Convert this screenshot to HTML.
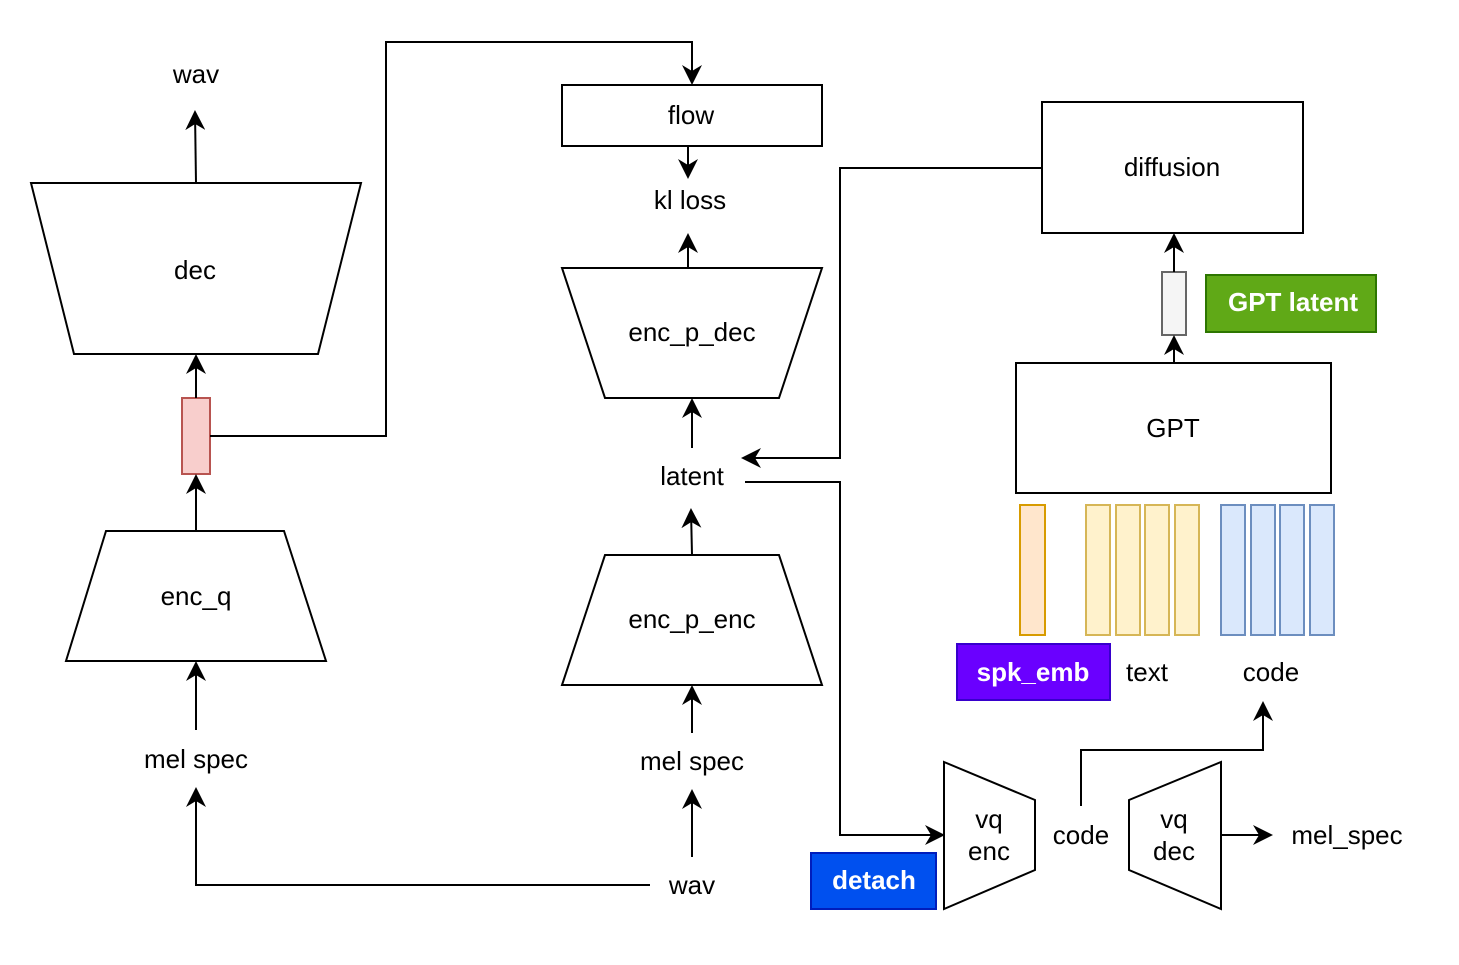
<!DOCTYPE html>
<html><head><meta charset="utf-8"><style>body{margin:0;background:#fff}svg{display:block}text{font-family:"Liberation Sans",Arial,sans-serif;font-size:26px;fill:#000}</style></head>
<body>
<svg width="1459" height="965" viewBox="0 0 1459 965" xmlns="http://www.w3.org/2000/svg">
<defs><marker id="b" viewBox="0 0 10 10" refX="9" refY="5" markerWidth="20" markerHeight="20" markerUnits="userSpaceOnUse" orient="auto"><path d="M0,0 L10,5 L0,10 L3,5 z" fill="#000"/></marker></defs>
<g fill="none" stroke="#000" stroke-width="2">
<polygon points="31,183 361,183 318,354 74,354" fill="#fff"/>
<polygon points="106,531 284,531 326,661 66,661" fill="#fff"/>
<polygon points="605,555 779,555 822,685 562,685" fill="#fff"/>
<polygon points="562,268 822,268 779,398 605,398" fill="#fff"/>
<rect x="562" y="85" width="260" height="61" fill="#fff"/>
<rect x="1042" y="102" width="261" height="131" fill="#fff"/>
<rect x="1016" y="363" width="315" height="130" fill="#fff"/>
<polygon points="944,762 1035,800 1035,870 944,909" fill="#fff"/>
<polygon points="1129,800 1221,762 1221,909 1129,870" fill="#fff"/>
</g>
<rect x="182" y="398" width="28" height="76" fill="#f8cecc" stroke="#b85450" stroke-width="2"/>
<rect x="1162" y="272" width="24" height="63" fill="#f5f5f5" stroke="#666" stroke-width="2"/>
<rect x="1206" y="275" width="170" height="57" fill="#60a917" stroke="#2d7600" stroke-width="2"/>
<rect x="1020" y="505" width="25" height="130" fill="#ffe6cc" stroke="#d79b00" stroke-width="2"/>
<g fill="#fff2cc" stroke="#d6b656" stroke-width="2"><rect x="1086" y="505" width="24" height="130"/><rect x="1116" y="505" width="24" height="130"/><rect x="1145" y="505" width="24" height="130"/><rect x="1175" y="505" width="24" height="130"/></g>
<g fill="#dae8fc" stroke="#6c8ebf" stroke-width="2"><rect x="1221" y="505" width="24" height="130"/><rect x="1251" y="505" width="24" height="130"/><rect x="1280" y="505" width="24" height="130"/><rect x="1310" y="505" width="24" height="130"/></g>
<rect x="957" y="644" width="153" height="56" fill="#6a00ff" stroke="#3700cc" stroke-width="2"/>
<rect x="811" y="853" width="125" height="56" fill="#0050ef" stroke="#001dbc" stroke-width="2"/>
<g fill="none" stroke="#000" stroke-width="2" marker-end="url(#b)">
<path d="M196,183 L195,112"/>
<path d="M196,398 L196,356"/>
<path d="M210,436 L386,436 L386,42 L692,42 L692,83"/>
<path d="M196,531 L196,476"/>
<path d="M196,730 L196,663"/>
<path d="M650,885 L196,885 L196,789"/>
<path d="M692,857 L692,791"/>
<path d="M692,733 L692,687"/>
<path d="M692,555 L691,510"/>
<path d="M692,448 L692,400"/>
<path d="M688,268 L688,235"/>
<path d="M688,146 L688,177"/>
<path d="M1042,168 L840,168 L840,458 L743,458"/>
<path d="M745,482 L840,482 L840,835 L943,835"/>
<path d="M1174,363 L1174,337"/>
<path d="M1174,272 L1174,235"/>
<path d="M1081,806 L1081,750 L1263,750 L1263,703"/>
<path d="M1221,835 L1271,835"/>
</g>
<g text-anchor="middle" dominant-baseline="central">
<text x="196" y="74">wav</text>
<text x="195" y="270">dec</text>
<text x="196" y="596">enc_q</text>
<text x="196" y="759">mel spec</text>
<text x="692" y="885">wav</text>
<text x="692" y="761">mel spec</text>
<text x="692" y="619">enc_p_enc</text>
<text x="692" y="476">latent</text>
<text x="692" y="332">enc_p_dec</text>
<text x="690" y="200">kl loss</text>
<text x="691" y="115">flow</text>
<text x="1172" y="167">diffusion</text>
<text x="1173" y="428">GPT</text>
<text x="1293" y="302" style="fill:#fff;font-weight:bold">GPT latent</text>
<text x="1033" y="672" style="fill:#fff;font-weight:bold">spk_emb</text>
<text x="1147" y="672">text</text>
<text x="1271" y="672">code</text>
<text x="989" y="819">vq</text>
<text x="989" y="851">enc</text>
<text x="1174" y="819">vq</text>
<text x="1174" y="851">dec</text>
<text x="1081" y="835">code</text>
<text x="1347" y="835">mel_spec</text>
<text x="874" y="880" style="fill:#fff;font-weight:bold">detach</text>
</g>
</svg>
</body></html>
